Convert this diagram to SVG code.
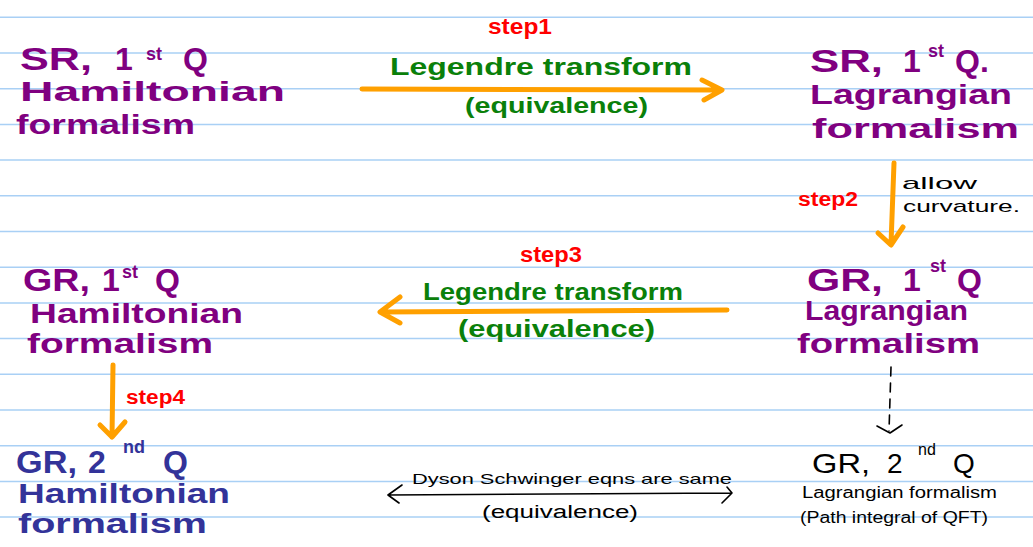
<svg xmlns="http://www.w3.org/2000/svg" width="1033" height="547" viewBox="0 0 1033 547">
<style>
text{font-family:"Liberation Sans","DejaVu Sans",sans-serif}
.pu{fill:#800080;font-weight:bold}
.db{fill:#333399;font-weight:bold}
.gr{fill:#0a800a;font-weight:bold}
.rd{fill:#ff0000;font-weight:bold}
.bk{fill:#000000}
.big{font-size:32px}
.mid{font-size:28px}
.sup{font-size:18px}
.rule{stroke:#a9d0f5;stroke-width:1.5}
.oa{stroke:#ffa000;stroke-width:5;fill:none;stroke-linecap:round;stroke-linejoin:round}
.ba{stroke:#000;stroke-width:1.6;fill:none;stroke-linecap:round;stroke-linejoin:round}
</style>
<rect width="1033" height="547" fill="#ffffff"/>
<g id="paper-lines">
<line class="rule" x1="0" y1="17.3" x2="1033" y2="17.3"/>
<line class="rule" x1="0" y1="53" x2="1033" y2="53"/>
<line class="rule" x1="0" y1="88.7" x2="1033" y2="88.7"/>
<line class="rule" x1="0" y1="124.4" x2="1033" y2="124.4"/>
<line class="rule" x1="0" y1="160.1" x2="1033" y2="160.1"/>
<line class="rule" x1="0" y1="195.8" x2="1033" y2="195.8"/>
<line class="rule" x1="0" y1="231.5" x2="1033" y2="231.5"/>
<line class="rule" x1="0" y1="267.2" x2="1033" y2="267.2"/>
<line class="rule" x1="0" y1="302.9" x2="1033" y2="302.9"/>
<line class="rule" x1="0" y1="338.6" x2="1033" y2="338.6"/>
<line class="rule" x1="0" y1="374.3" x2="1033" y2="374.3"/>
<line class="rule" x1="0" y1="410" x2="1033" y2="410"/>
<line class="rule" x1="0" y1="445.7" x2="1033" y2="445.7"/>
<line class="rule" x1="0" y1="481.4" x2="1033" y2="481.4"/>
<line class="rule" x1="0" y1="517.1" x2="1033" y2="517.1"/>
</g>
<g id="connectors">
<g id="edge-step1">
<path class="oa" d="M362,89 L722,90 M702,80 L722,90 L704,100"/>
<text class="rd" x="488" y="34" font-size="22" textLength="64" lengthAdjust="spacingAndGlyphs">step1</text>
<text class="gr" x="390" y="75" font-size="24" textLength="302" lengthAdjust="spacingAndGlyphs">Legendre transform</text>
<text class="gr" x="465" y="113" font-size="22" textLength="183" lengthAdjust="spacingAndGlyphs">(equivalence)</text>
</g>
<g id="edge-step2">
<path class="oa" d="M894,163 L891,244 M878,233 L891,245 L903,227"/>
<text class="rd" x="798" y="206" font-size="20" textLength="60" lengthAdjust="spacingAndGlyphs">step2</text>
<text class="bk" x="902" y="189" font-size="17" textLength="75" lengthAdjust="spacingAndGlyphs">allow</text>
<text class="bk" x="903" y="212" font-size="17" textLength="117" lengthAdjust="spacingAndGlyphs">curvature.</text>
</g>
<g id="edge-step3">
<path class="oa" d="M727,310 L380,312 M400,297 L380,312 L400,323"/>
<text class="rd" x="520" y="262" font-size="22" textLength="62" lengthAdjust="spacingAndGlyphs">step3</text>
<text class="gr" x="423" y="300" font-size="24" textLength="260" lengthAdjust="spacingAndGlyphs">Legendre transform</text>
<text class="gr" x="458" y="337" font-size="24" textLength="197" lengthAdjust="spacingAndGlyphs">(equivalence)</text>
</g>
<g id="edge-step4">
<path class="oa" d="M113,365 L112,437 M100,425 L112,437 L125,422"/>
<text class="rd" x="126" y="404" font-size="20" textLength="59" lengthAdjust="spacingAndGlyphs">step4</text>
</g>
<g id="edge-dashed">
<path class="ba" d="M891,367 L889,431" stroke-dasharray="9,7"/>
<path class="ba" d="M877,426 L890,433 L902,425"/>
</g>
<g id="edge-dyson">
<path class="ba" d="M388,495 L732,493 M402,485 L388,495 L399,503 M727,487 L732,493 L722,503"/>
<text class="bk" x="412" y="484" font-size="15" textLength="320" lengthAdjust="spacingAndGlyphs">Dyson Schwinger eqns are same</text>
<text class="bk" x="482" y="518" font-size="18" textLength="156" lengthAdjust="spacingAndGlyphs">(equivalence)</text>
</g>
</g>
<g id="node-sr-1q-hamiltonian">
<text class="pu big" y="70"><tspan x="20" textLength="72" lengthAdjust="spacingAndGlyphs">SR,</tspan><tspan x="115">1</tspan><tspan class="sup" x="146" y="60">st</tspan><tspan x="183" y="70">Q</tspan></text>
<text class="pu mid" x="20" y="101" textLength="265" lengthAdjust="spacingAndGlyphs">Hamiltonian</text>
<text class="pu mid" x="16" y="134" textLength="179" lengthAdjust="spacingAndGlyphs">formalism</text>
</g>
<g id="node-sr-1q-lagrangian">
<text class="pu big" y="72"><tspan x="810" textLength="73" lengthAdjust="spacingAndGlyphs">SR,</tspan><tspan x="903">1</tspan><tspan class="sup" x="928" y="57">st</tspan><tspan x="955" y="72">Q.</tspan></text>
<text class="pu mid" x="810" y="104" textLength="202" lengthAdjust="spacingAndGlyphs">Lagrangian</text>
<text class="pu mid" x="812" y="138" textLength="207" lengthAdjust="spacingAndGlyphs">formalism</text>
</g>
<g id="node-gr-1q-lagrangian">
<text class="pu big" y="291"><tspan x="807" textLength="76" lengthAdjust="spacingAndGlyphs">GR,</tspan><tspan x="903">1</tspan><tspan class="sup" x="930" y="272">st</tspan><tspan x="957" y="291">Q</tspan></text>
<text class="pu mid" x="805" y="320" textLength="163" lengthAdjust="spacingAndGlyphs">Lagrangian</text>
<text class="pu mid" x="797" y="353" textLength="183" lengthAdjust="spacingAndGlyphs">formalism</text>
</g>
<g id="node-gr-1q-hamiltonian">
<text class="pu big" y="291"><tspan x="23" textLength="67" lengthAdjust="spacingAndGlyphs">GR,</tspan><tspan x="102">1</tspan><tspan class="sup" x="122" y="278">st</tspan><tspan x="155" y="291">Q</tspan></text>
<text class="pu mid" x="30" y="323" textLength="213" lengthAdjust="spacingAndGlyphs">Hamiltonian</text>
<text class="pu mid" x="27" y="353" textLength="186" lengthAdjust="spacingAndGlyphs">formalism</text>
</g>
<g id="node-gr-2q-hamiltonian">
<text class="db big" y="473"><tspan x="16" textLength="61" lengthAdjust="spacingAndGlyphs">GR,</tspan><tspan x="88">2</tspan><tspan class="sup" x="123" y="453">nd</tspan><tspan x="163" y="473">Q</tspan></text>
<text class="db mid" x="18" y="503" textLength="212" lengthAdjust="spacingAndGlyphs">Hamiltonian</text>
<text class="db mid" x="18" y="533" textLength="189" lengthAdjust="spacingAndGlyphs">formalism</text>
</g>
<g id="node-gr-2q-lagrangian">
<text class="bk" font-size="28" y="473"><tspan x="812" textLength="58" lengthAdjust="spacingAndGlyphs">GR,</tspan><tspan x="887">2</tspan><tspan font-size="16" x="918" y="455">nd</tspan><tspan x="953" y="473">Q</tspan></text>
<text class="bk" font-size="16" x="802" y="498" textLength="195" lengthAdjust="spacingAndGlyphs">Lagrangian formalism</text>
<text class="bk" font-size="16" x="800" y="523" textLength="188" lengthAdjust="spacingAndGlyphs">(Path integral of QFT)</text>
</g>
</svg>
